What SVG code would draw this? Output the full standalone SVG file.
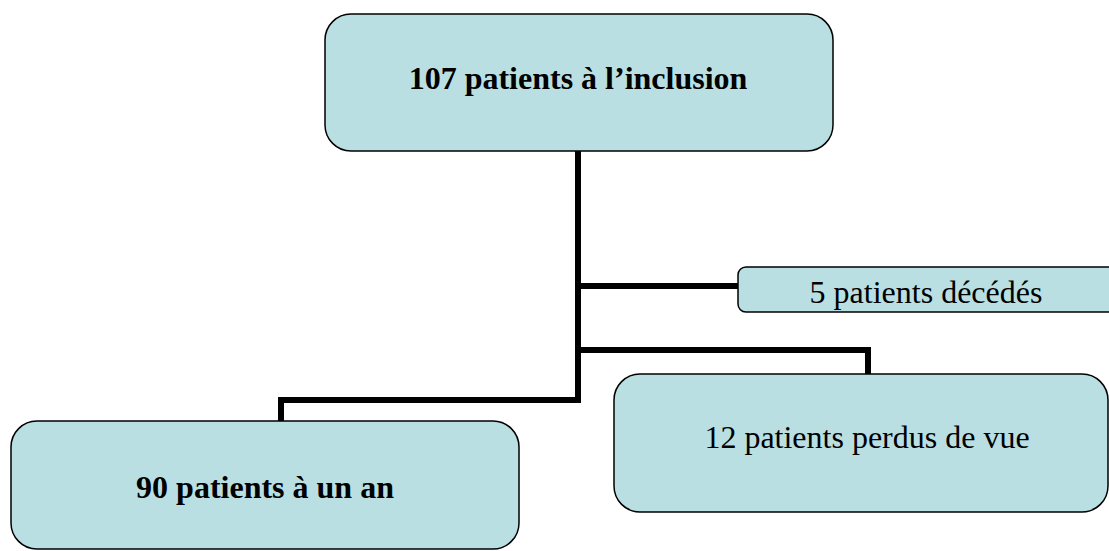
<svg xmlns="http://www.w3.org/2000/svg" width="1109" height="551" viewBox="0 0 1109 551">
  <style>
    .box { fill: #b9dfe3; stroke: #000; stroke-width: 1.5; }
    .lbl { font-family: "Liberation Serif", "Times New Roman", serif; font-size: 32px; fill: #000; text-anchor: middle; }
    .b { font-weight: bold; }
    .conn { fill: none; stroke: #000; stroke-width: 6; stroke-linejoin: miter; stroke-linecap: butt; }
  </style>
  <rect width="1109" height="551" fill="#fff"/>
  <g id="connectors">
    <path class="conn" d="M578,151 V400"/>
    <path class="conn" d="M578,286 H739"/>
    <path class="conn" d="M578,350 H868 V375"/>
    <path class="conn" d="M581,400 H281 V421"/>
  </g>
  <g id="node-inclusion">
    <rect class="box" x="325" y="14" width="508" height="137" rx="26" ry="26"/>
    <text class="lbl b" x="578" y="89">107 patients à l’inclusion</text>
  </g>
  <g id="node-deces">
    <rect class="box" x="738" y="267" width="390" height="45" rx="8" ry="8"/>
    <text class="lbl" x="926" y="303">5 patients décédés</text>
  </g>
  <g id="node-perdus">
    <rect class="box" x="614" y="374" width="494" height="138" rx="26" ry="26"/>
    <text class="lbl" x="867" y="448">12 patients perdus de vue</text>
  </g>
  <g id="node-un-an">
    <rect class="box" x="11" y="421" width="508" height="128" rx="26" ry="26"/>
    <text class="lbl b" x="265" y="498">90 patients à un an</text>
  </g>
</svg>
